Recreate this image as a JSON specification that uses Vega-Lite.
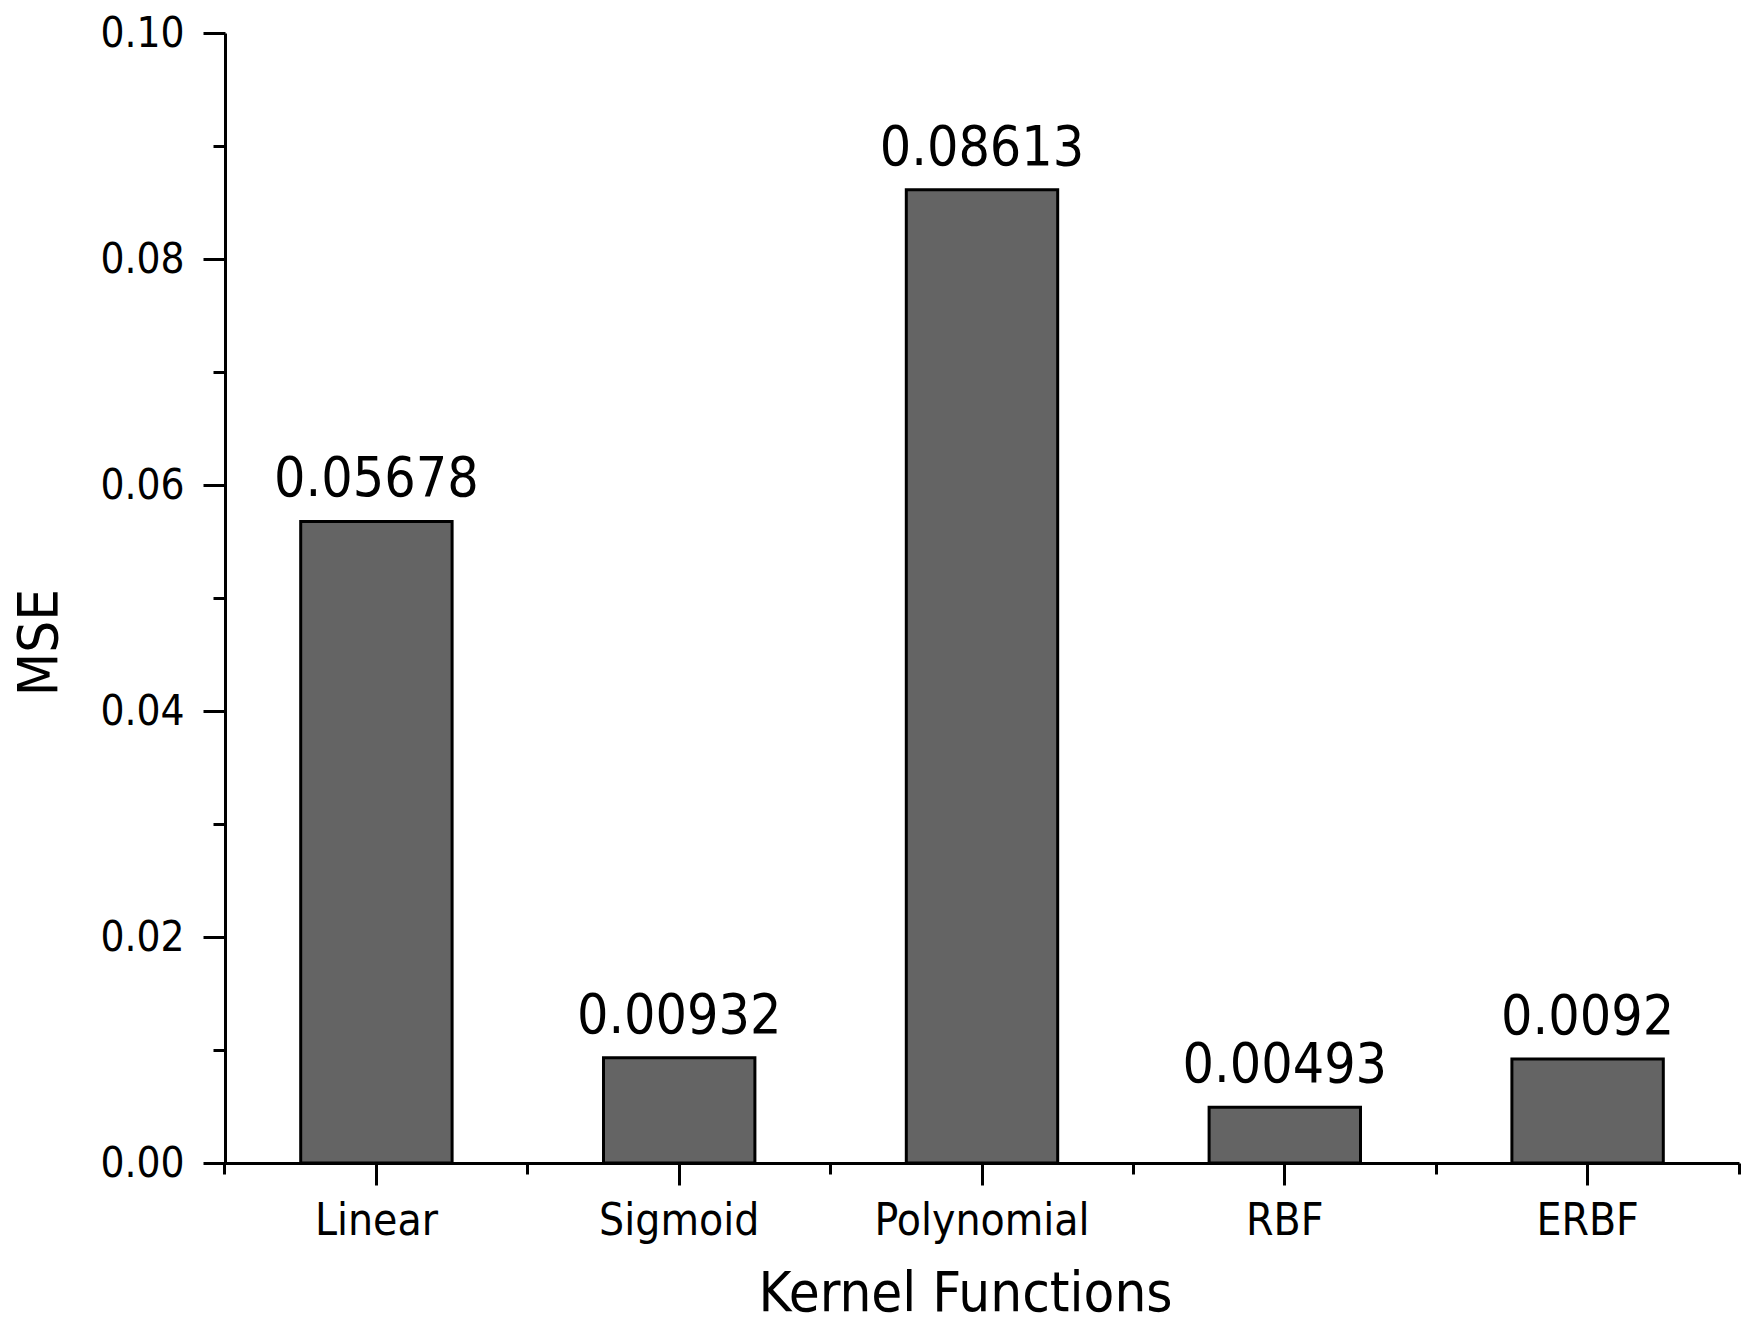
{
  "$schema": "https://vega.github.io/schema/vega-lite/v6.json",
  "width": 1514,
  "height": 1130,
  "autosize": "none",
  "padding": {"left": 225, "top": 33, "right": 11, "bottom": 160},
  "background": "white",
  "config": {
    "font": "DejaVu Sans Condensed, DejaVu Sans",
    "view": {"stroke": null},
    "axis": {
      "grid": false,
      "domainColor": "black",
      "domainWidth": 3,
      "tickColor": "black",
      "tickWidth": 3,
      "labelColor": "black",
      "titleColor": "black",
      "titleFontWeight": "normal"
    }
  },
  "data": {
    "values": [
      {"kernel": "Linear", "mse": 0.05678},
      {"kernel": "Sigmoid", "mse": 0.00932},
      {"kernel": "Polynomial", "mse": 0.08613},
      {"kernel": "RBF", "mse": 0.00493},
      {"kernel": "ERBF", "mse": 0.0092}
    ]
  },
  "layer": [
    {
      "mark": {"type": "bar", "color": "#646464", "stroke": "black", "strokeWidth": 3},
      "encoding": {
        "x": {
          "field": "kernel",
          "type": "nominal",
          "sort": null,
          "scale": {"paddingInner": 0.5, "paddingOuter": 0.25},
          "axis": {"orient": "bottom", "bandPosition": -0.5, "tickSize": 11, "labels": false, "title": null}
        },
        "y": {
          "field": "mse",
          "type": "quantitative",
          "scale": {"domain": [0, 0.1], "nice": false},
          "axis": {"orient": "left", "values": [0.01, 0.03, 0.05, 0.07, 0.09], "tickSize": 12, "labels": false, "domain": false, "title": null}
        }
      }
    },
    {
      "mark": {"type": "bar", "opacity": 0},
      "encoding": {
        "x": {
          "field": "kernel",
          "type": "nominal",
          "sort": null,
          "axis": {"orient": "bottom", "values": ["ERBF"], "bandPosition": 1.5, "tickSize": 11, "labels": false, "domain": false, "title": null}
        },
        "y": {"field": "mse", "type": "quantitative", "axis": null}
      }
    },
    {
      "mark": {"type": "text", "baseline": "alphabetic", "dy": -25, "fontSize": 55, "color": "black"},
      "encoding": {
        "x": {
          "field": "kernel",
          "type": "nominal",
          "sort": null,
          "axis": {
            "orient": "bottom",
            "tickSize": 22,
            "domain": false,
            "labelAngle": 0,
            "labelLimit": 0,
            "labelFontSize": 44,
            "labelPadding": 14,
            "title": "Kernel Functions",
            "titleFontSize": 56,
            "titleBaseline": "alphabetic",
            "titleAlign": "center",
            "titleX": 740,
            "titleY": 147
          }
        },
        "y": {
          "field": "mse",
          "type": "quantitative",
          "axis": {
            "orient": "left",
            "values": [0, 0.02, 0.04, 0.06, 0.08, 0.1],
            "format": ".2f",
            "tickSize": 22,
            "labelFontSize": 42,
            "labelPadding": 19,
            "title": "MSE",
            "titleFontSize": 56,
            "titleBaseline": "alphabetic",
            "titleAlign": "center",
            "titleX": -169,
            "titleY": 609
          }
        },
        "text": {"field": "mse", "type": "quantitative", "format": "~r"}
      }
    }
  ],
  "resolve": {"axis": {"x": "independent", "y": "independent"}}
}
